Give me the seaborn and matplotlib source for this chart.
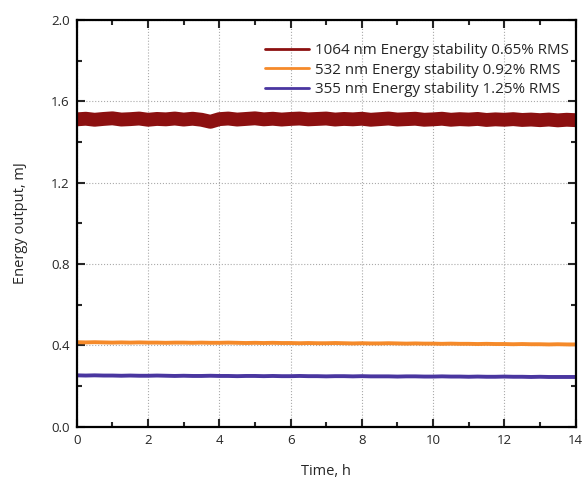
import numpy as np
import pandas as pd
import matplotlib
matplotlib.use('Agg')
import matplotlib.pyplot as plt
import seaborn as sns
from matplotlib.ticker import MultipleLocator

# time axis, hours (every 0.25 h)
hours = np.linspace(0, 14, 57)

# energy readings, mJ
e1064 = [1.512, 1.515, 1.510, 1.514, 1.517, 1.511, 1.513, 1.516, 1.510, 1.514,
         1.512, 1.516, 1.511, 1.515, 1.510, 1.500, 1.513, 1.516, 1.511, 1.514,
         1.517, 1.512, 1.515, 1.511, 1.514, 1.516, 1.512, 1.514, 1.516, 1.511,
         1.514, 1.512, 1.515, 1.510, 1.513, 1.516, 1.511, 1.513, 1.515, 1.510,
         1.512, 1.515, 1.510, 1.513, 1.511, 1.514, 1.509, 1.512, 1.510, 1.513,
         1.509, 1.511, 1.508, 1.511, 1.507, 1.510, 1.508]
e532 = [0.416, 0.415, 0.416, 0.415, 0.414, 0.415, 0.414, 0.415, 0.414, 0.414,
        0.413, 0.414, 0.414, 0.413, 0.414, 0.413, 0.413, 0.414, 0.413, 0.412,
        0.413, 0.412, 0.413, 0.412, 0.412, 0.411, 0.412, 0.411, 0.411, 0.412,
        0.411, 0.410, 0.411, 0.410, 0.410, 0.411, 0.410, 0.409, 0.410, 0.409,
        0.409, 0.408, 0.409, 0.408, 0.408, 0.407, 0.408, 0.407, 0.407, 0.406,
        0.407, 0.406, 0.406, 0.405, 0.406, 0.405, 0.405]
e355 = [0.253, 0.252, 0.253, 0.252, 0.252, 0.251, 0.252, 0.251, 0.251, 0.252,
        0.251, 0.250, 0.251, 0.250, 0.250, 0.251, 0.250, 0.250, 0.249, 0.250,
        0.250, 0.249, 0.250, 0.249, 0.249, 0.250, 0.249, 0.249, 0.248, 0.249,
        0.249, 0.248, 0.249, 0.248, 0.248, 0.248, 0.247, 0.248, 0.248, 0.247,
        0.247, 0.248, 0.247, 0.247, 0.246, 0.247, 0.246, 0.246, 0.247, 0.246,
        0.246, 0.245, 0.246, 0.245, 0.245, 0.245, 0.245]

labels = ['1064 nm Energy stability 0.65% RMS',
          '532 nm Energy stability 0.92% RMS',
          '355 nm Energy stability 1.25% RMS']
colors = ['#8c1010', '#f58a2a', '#4a36a0']

df = pd.concat([
    pd.DataFrame({'t': hours, 'E': e1064, 'series': labels[0]}),
    pd.DataFrame({'t': hours, 'E': e532, 'series': labels[1]}),
    pd.DataFrame({'t': hours, 'E': e355, 'series': labels[2]}),
])

sns.set_style('ticks')
plt.rcParams['font.family'] = ['Open Sans', 'DejaVu Sans']

fig = plt.figure(figsize=(5.82, 4.79), dpi=100)
ax = fig.add_axes([0.132, 0.109, 0.857, 0.849])

sns.lineplot(data=df, x='t', y='E', hue='series', palette=colors, ax=ax,
             legend=False)
widths = [10, 2.8, 2.8]
for line, w in zip(ax.get_lines(), widths):
    line.set_linewidth(w)
    line.set_solid_capstyle('butt')

ax.set_xlim(0, 14)
ax.set_ylim(0, 2.0)
ax.xaxis.set_major_locator(MultipleLocator(2))
ax.xaxis.set_minor_locator(MultipleLocator(1))
ax.yaxis.set_major_locator(MultipleLocator(0.4))
ax.yaxis.set_minor_locator(MultipleLocator(0.2))
ax.yaxis.set_major_formatter(plt.FormatStrFormatter('%.1f'))
ax.tick_params(which='both', direction='in', top=True, right=True,
               labelsize=9.5, width=1.5)
ax.tick_params(which='major', length=6, pad=5)
ax.tick_params(which='minor', length=3.5)
ax.grid(True, which='major', linestyle=':', color='#aaaaaa', linewidth=0.8)
for s in ax.spines.values():
    s.set_linewidth(1.6)
    s.set_color('black')

ax.set_xlabel('Time, h', fontsize=10.5, labelpad=12.5)
ax.set_ylabel('Energy output, mJ', fontsize=10.5, labelpad=17)

handles = [plt.Line2D([], [], color=c, lw=2) for c in colors]
ax.legend(handles, labels, loc='upper right', frameon=False, fontsize=10.9,
          handlelength=2.85, handletextpad=0.4, labelspacing=0.3,
          borderaxespad=0.0, borderpad=0.3, bbox_to_anchor=(0.995, 0.955))

fig.savefig('out.png', dpi=100)
